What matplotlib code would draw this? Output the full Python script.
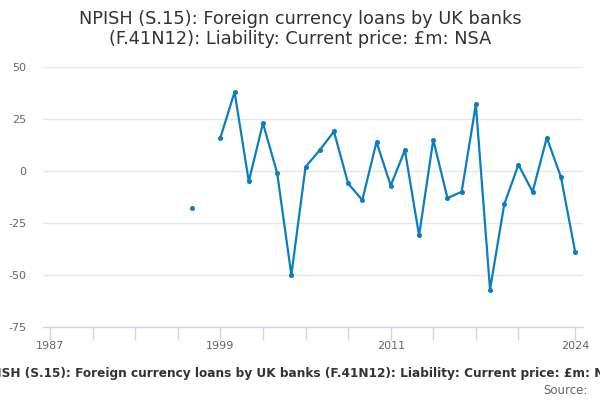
import numpy as np
import matplotlib
matplotlib.use("Agg")
import matplotlib.pyplot as plt

years = list(range(1997, 2025))
values = [-18, np.nan, 16, 38, -5, 23, -1, -50, 2, 10, 19, -6, -14, 14, -7, 10,
          -31, 15, -13, -10, 32, -57, -16, 3, -10, 16, -3, -39]
y_ticks = [-75, -50, -25, 0, 25, 50]
x_label_years = [1987, 1999, 2011, 2024]
x_tick_years = list(range(1987, 2021, 3)) + [2024]

title = "NPISH (S.15): Foreign currency loans by UK banks\n(F.41N12): Liability: Current price: £m: NSA"
caption = "NPISH (S.15): Foreign currency loans by UK banks (F.41N12): Liability: Current price: £m: NSA"

plt.rcParams['font.family'] = ['DejaVu Sans']
fig = plt.figure(figsize=(6, 4), dpi=100)
ax = fig.add_axes([43/600, 1-327/400, (583-43)/600, (327-67)/400])

color = '#0b7dc1'
ax.plot(years, values, color=color, lw=1.6, marker='o', ms=2.6, zorder=3)

ax.set_xlim(1986.5, 2024.55)
ax.set_ylim(-75, 50)
ax.set_yticks(y_ticks)
ax.set_yticklabels([str(v) for v in y_ticks])
ax.grid(axis='y', color='#e6e6e6', lw=1)
ax.set_axisbelow(True)
for s in ['top', 'right', 'left']:
    ax.spines[s].set_visible(False)
ax.spines['bottom'].set_color('#ccd6eb')
ax.spines['bottom'].set_linewidth(1)
ax.tick_params(axis='y', length=0, pad=12, labelsize=8, labelcolor='#666666')
ax.set_xticks(x_tick_years)
ax.set_xticklabels([str(y) if y in x_label_years else '' for y in x_tick_years])
ax.tick_params(axis='x', length=9, width=1, color='#ccd6eb', labelsize=8,
               labelcolor='#666666', pad=1)

fig.text(0.5, 1-29/400, title, ha='center', va='center', fontsize=12.8,
         color='#333333', linespacing=1.1)
fig.text(0.5, 1-373/400, caption, ha='center', va='center', fontsize=8.75,
         fontweight='bold', color='#333333')
fig.text(588/600, 1-391/400, "Source:", ha='right', va='center', fontsize=8.5,
         color='#666666')

fig.savefig('out.png', dpi=100)
